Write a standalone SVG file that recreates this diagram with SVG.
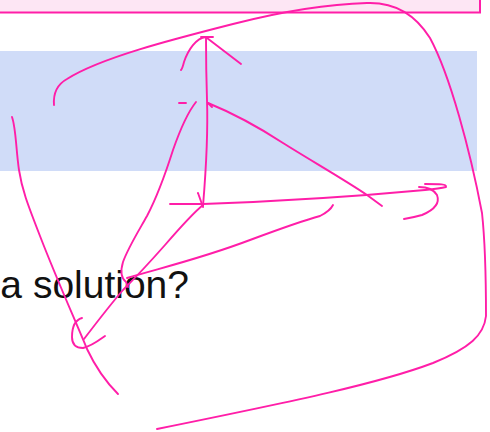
<svg xmlns="http://www.w3.org/2000/svg" width="490" height="432" viewBox="0 0 490 432">
<style>
.ink{fill:none;stroke:#ff1ea8;stroke-width:1.9;stroke-linecap:round;stroke-linejoin:round}
.t{font-family:"Liberation Sans","DejaVu Sans",sans-serif;font-size:39px;fill:#111}
</style>
<rect width="490" height="432" fill="#ffffff"/>
<g id="pinkbox"><rect x="-5" y="-10" width="485" height="22.5" fill="#fde6f4" stroke="#ff1ea8" stroke-width="2"/></g>
<g id="band"><rect x="0" y="51" width="477" height="120" fill="#d0dcf8"/></g>
<g id="label"><text class="t" x="189" y="298" text-anchor="end">a solution?</text></g>
<g id="sketch">
<path class="ink" d="M54,105 C53,92 58,84 67,79 C100,58 170,40 233,24 C280,12 330,4 367,3 C395,2 415,14 430,38 C450,75 470,150 482,213 C486,250 486,290 486,316 C484,335 470,348 433,363 C380,383 300,400 157,429"/>
<path class="ink" d="M12,117 C16,128 16,150 19,170 C22,190 28,205 40,236 C55,275 75,320 87,349 C95,366 104,380 118,394"/>
<path class="ink" d="M203,206 C206,170 208,130 207,100 C206,70 206,50 206,37"/>
<path class="ink" d="M198,193 L203,207"/>
<path class="ink" d="M206,37 C196,38 188,50 184,62 C183,66 182,69 181,70"/>
<path class="ink" d="M207,38 L241,64"/>
<path class="ink" d="M201,37 L213,37"/>
<path class="ink" d="M170,204 L203,204 C260,202 350,197 425,190 C435,189 442,188 446,187 C447,184 440,184 425,184"/>
<path class="ink" d="M419,187 C428,187 434,190 437,195 C440,203 434,210 422,215 C415,217 410,218 404,219"/>
<path class="ink" d="M208,103 C230,112 260,128 283,143 C310,160 345,180 367,195 L382,206"/>
<path class="ink" d="M208,103 L212,107"/>
<path class="ink" d="M179,103 L186,103"/>
<path class="ink" d="M196,102 C188,112 180,130 173,150 C166,172 158,195 147,216 C138,232 128,248 123,262 C120,272 121,278 126,282 L128,287"/>
<path class="ink" d="M203,205 C192,214 178,230 165,245 C150,262 135,278 123,290 C110,305 97,322 84,339"/>
<path class="ink" d="M82,318 C75,320 72,328 72,337 C72,344 76,348 83,348 C92,346 98,341 105,336"/>
<path class="ink" d="M127,278 C160,268 200,259 250,240 C285,227 305,220 320,216 C326,213 331,209 333,205"/>
</g>
</svg>
